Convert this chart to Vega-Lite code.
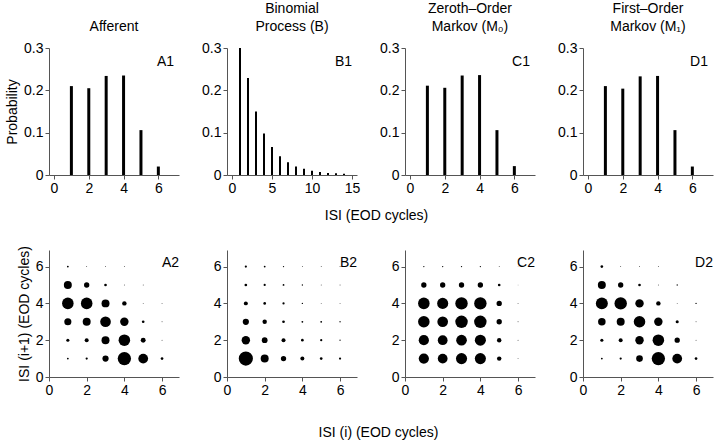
{
  "$schema": "https://vega.github.io/schema/vega-lite/v6.json",
  "padding": {"left": 5, "top": 2, "right": 2, "bottom": 2},
  "datasets": {
    "hist": [
      {"panel": "A1", "isi": 1, "p": 0.210}, {"panel": "A1", "isi": 2, "p": 0.205}, {"panel": "A1", "isi": 3, "p": 0.234},
      {"panel": "A1", "isi": 4, "p": 0.235}, {"panel": "A1", "isi": 5, "p": 0.106}, {"panel": "A1", "isi": 6, "p": 0.020},
      {"panel": "B1", "isi": 1, "p": 0.300}, {"panel": "B1", "isi": 2, "p": 0.229}, {"panel": "B1", "isi": 3, "p": 0.150},
      {"panel": "B1", "isi": 4, "p": 0.098}, {"panel": "B1", "isi": 5, "p": 0.066}, {"panel": "B1", "isi": 6, "p": 0.044},
      {"panel": "B1", "isi": 7, "p": 0.030}, {"panel": "B1", "isi": 8, "p": 0.020}, {"panel": "B1", "isi": 9, "p": 0.015},
      {"panel": "B1", "isi": 10, "p": 0.010}, {"panel": "B1", "isi": 11, "p": 0.007}, {"panel": "B1", "isi": 12, "p": 0.005},
      {"panel": "B1", "isi": 13, "p": 0.004}, {"panel": "B1", "isi": 14, "p": 0.003},
      {"panel": "C1", "isi": 1, "p": 0.211}, {"panel": "C1", "isi": 2, "p": 0.206}, {"panel": "C1", "isi": 3, "p": 0.235},
      {"panel": "C1", "isi": 4, "p": 0.236}, {"panel": "C1", "isi": 5, "p": 0.106}, {"panel": "C1", "isi": 6, "p": 0.021},
      {"panel": "D1", "isi": 1, "p": 0.210}, {"panel": "D1", "isi": 2, "p": 0.204}, {"panel": "D1", "isi": 3, "p": 0.233},
      {"panel": "D1", "isi": 4, "p": 0.234}, {"panel": "D1", "isi": 5, "p": 0.106}, {"panel": "D1", "isi": 6, "p": 0.020}
    ],
    "joint": [
      {"panel": "A2", "i": 1, "j": 6, "p": 0.0024}, {"panel": "A2", "i": 2, "j": 6, "p": 0.0006}, {"panel": "A2", "i": 3, "j": 6, "p": 0.0006}, {"panel": "A2", "i": 4, "j": 6, "p": 0.0006},
      {"panel": "A2", "i": 1, "j": 5, "p": 0.0476}, {"panel": "A2", "i": 2, "j": 5, "p": 0.0212}, {"panel": "A2", "i": 3, "j": 5, "p": 0.0053}, {"panel": "A2", "i": 4, "j": 5, "p": 0.0006}, {"panel": "A2", "i": 5, "j": 5, "p": 0.0006},
      {"panel": "A2", "i": 1, "j": 4, "p": 0.0994}, {"panel": "A2", "i": 2, "j": 4, "p": 0.0994}, {"panel": "A2", "i": 3, "j": 4, "p": 0.0476}, {"panel": "A2", "i": 4, "j": 4, "p": 0.0147}, {"panel": "A2", "i": 5, "j": 4, "p": 0.0006}, {"panel": "A2", "i": 6, "j": 4, "p": 0.0006},
      {"panel": "A2", "i": 1, "j": 3, "p": 0.0376}, {"panel": "A2", "i": 2, "j": 3, "p": 0.0476}, {"panel": "A2", "i": 3, "j": 3, "p": 0.0847}, {"panel": "A2", "i": 4, "j": 3, "p": 0.0531}, {"panel": "A2", "i": 5, "j": 3, "p": 0.0053}, {"panel": "A2", "i": 6, "j": 3, "p": 0.0006},
      {"panel": "A2", "i": 1, "j": 2, "p": 0.0072}, {"panel": "A2", "i": 2, "j": 2, "p": 0.0119}, {"panel": "A2", "i": 3, "j": 2, "p": 0.0476}, {"panel": "A2", "i": 4, "j": 2, "p": 0.0994}, {"panel": "A2", "i": 5, "j": 2, "p": 0.0178}, {"panel": "A2", "i": 6, "j": 2, "p": 0.0006},
      {"panel": "A2", "i": 1, "j": 1, "p": 0.0024}, {"panel": "A2", "i": 2, "j": 1, "p": 0.0037}, {"panel": "A2", "i": 3, "j": 1, "p": 0.0288}, {"panel": "A2", "i": 4, "j": 1, "p": 0.1324}, {"panel": "A2", "i": 5, "j": 1, "p": 0.0712}, {"panel": "A2", "i": 6, "j": 1, "p": 0.0053},

      {"panel": "B2", "i": 1, "j": 6, "p": 0.0037}, {"panel": "B2", "i": 2, "j": 6, "p": 0.0024}, {"panel": "B2", "i": 3, "j": 6, "p": 0.0013}, {"panel": "B2", "i": 4, "j": 6, "p": 0.0006}, {"panel": "B2", "i": 5, "j": 6, "p": 0.0006}, {"panel": "B2", "i": 6, "j": 6, "p": 0.0006},
      {"panel": "B2", "i": 1, "j": 5, "p": 0.0053}, {"panel": "B2", "i": 2, "j": 5, "p": 0.0037}, {"panel": "B2", "i": 3, "j": 5, "p": 0.0024}, {"panel": "B2", "i": 4, "j": 5, "p": 0.0013}, {"panel": "B2", "i": 5, "j": 5, "p": 0.0006}, {"panel": "B2", "i": 6, "j": 5, "p": 0.0006},
      {"panel": "B2", "i": 1, "j": 4, "p": 0.0119}, {"panel": "B2", "i": 2, "j": 4, "p": 0.0053}, {"panel": "B2", "i": 3, "j": 4, "p": 0.0037}, {"panel": "B2", "i": 4, "j": 4, "p": 0.0013}, {"panel": "B2", "i": 5, "j": 4, "p": 0.0006}, {"panel": "B2", "i": 6, "j": 4, "p": 0.0006},
      {"panel": "B2", "i": 1, "j": 3, "p": 0.0288}, {"panel": "B2", "i": 2, "j": 3, "p": 0.0147}, {"panel": "B2", "i": 3, "j": 3, "p": 0.0053}, {"panel": "B2", "i": 4, "j": 3, "p": 0.0024}, {"panel": "B2", "i": 5, "j": 3, "p": 0.0024}, {"panel": "B2", "i": 6, "j": 3, "p": 0.0013},
      {"panel": "B2", "i": 1, "j": 2, "p": 0.0531}, {"panel": "B2", "i": 2, "j": 2, "p": 0.0249}, {"panel": "B2", "i": 3, "j": 2, "p": 0.0119}, {"panel": "B2", "i": 4, "j": 2, "p": 0.0053}, {"panel": "B2", "i": 5, "j": 2, "p": 0.0037}, {"panel": "B2", "i": 6, "j": 2, "p": 0.0013},
      {"panel": "B2", "i": 1, "j": 1, "p": 0.1506}, {"panel": "B2", "i": 2, "j": 1, "p": 0.0476}, {"panel": "B2", "i": 3, "j": 1, "p": 0.0212}, {"panel": "B2", "i": 4, "j": 1, "p": 0.0119}, {"panel": "B2", "i": 5, "j": 1, "p": 0.0053}, {"panel": "B2", "i": 6, "j": 1, "p": 0.0037},

      {"panel": "C2", "i": 1, "j": 6, "p": 0.0013}, {"panel": "C2", "i": 2, "j": 6, "p": 0.0013}, {"panel": "C2", "i": 3, "j": 6, "p": 0.0013}, {"panel": "C2", "i": 4, "j": 6, "p": 0.0013}, {"panel": "C2", "i": 5, "j": 6, "p": 0.0006}, {"panel": "C2", "i": 6, "j": 6, "p": 0.0002},
      {"panel": "C2", "i": 1, "j": 5, "p": 0.0212}, {"panel": "C2", "i": 2, "j": 5, "p": 0.0212}, {"panel": "C2", "i": 3, "j": 5, "p": 0.0212}, {"panel": "C2", "i": 4, "j": 5, "p": 0.0212}, {"panel": "C2", "i": 5, "j": 5, "p": 0.0053}, {"panel": "C2", "i": 6, "j": 5, "p": 0.0002},
      {"panel": "C2", "i": 1, "j": 4, "p": 0.0994}, {"panel": "C2", "i": 2, "j": 4, "p": 0.0919}, {"panel": "C2", "i": 3, "j": 4, "p": 0.1153}, {"panel": "C2", "i": 4, "j": 4, "p": 0.1153}, {"panel": "C2", "i": 5, "j": 4, "p": 0.0212}, {"panel": "C2", "i": 6, "j": 4, "p": 0.0006},
      {"panel": "C2", "i": 1, "j": 3, "p": 0.0994}, {"panel": "C2", "i": 2, "j": 3, "p": 0.0847}, {"panel": "C2", "i": 3, "j": 3, "p": 0.1153}, {"panel": "C2", "i": 4, "j": 3, "p": 0.1153}, {"panel": "C2", "i": 5, "j": 3, "p": 0.0212}, {"panel": "C2", "i": 6, "j": 3, "p": 0.0006},
      {"panel": "C2", "i": 1, "j": 2, "p": 0.0778}, {"panel": "C2", "i": 2, "j": 2, "p": 0.0712}, {"panel": "C2", "i": 3, "j": 2, "p": 0.0847}, {"panel": "C2", "i": 4, "j": 2, "p": 0.0919}, {"panel": "C2", "i": 5, "j": 2, "p": 0.0147}, {"panel": "C2", "i": 6, "j": 2, "p": 0.0006},
      {"panel": "C2", "i": 1, "j": 1, "p": 0.0778}, {"panel": "C2", "i": 2, "j": 1, "p": 0.0712}, {"panel": "C2", "i": 3, "j": 1, "p": 0.0919}, {"panel": "C2", "i": 4, "j": 1, "p": 0.0919}, {"panel": "C2", "i": 5, "j": 1, "p": 0.0147}, {"panel": "C2", "i": 6, "j": 1, "p": 0.0006},

      {"panel": "D2", "i": 1, "j": 6, "p": 0.0053}, {"panel": "D2", "i": 2, "j": 6, "p": 0.0006}, {"panel": "D2", "i": 3, "j": 6, "p": 0.0006}, {"panel": "D2", "i": 4, "j": 6, "p": 0.0006},
      {"panel": "D2", "i": 1, "j": 5, "p": 0.0476}, {"panel": "D2", "i": 2, "j": 5, "p": 0.0212}, {"panel": "D2", "i": 3, "j": 5, "p": 0.0053}, {"panel": "D2", "i": 4, "j": 5, "p": 0.0006}, {"panel": "D2", "i": 5, "j": 5, "p": 0.0013},
      {"panel": "D2", "i": 1, "j": 4, "p": 0.1072}, {"panel": "D2", "i": 2, "j": 4, "p": 0.1153}, {"panel": "D2", "i": 3, "j": 4, "p": 0.0531}, {"panel": "D2", "i": 4, "j": 4, "p": 0.0147}, {"panel": "D2", "i": 5, "j": 4, "p": 0.0006}, {"panel": "D2", "i": 6, "j": 4, "p": 0.0013},
      {"panel": "D2", "i": 1, "j": 3, "p": 0.0425}, {"panel": "D2", "i": 2, "j": 3, "p": 0.0476}, {"panel": "D2", "i": 3, "j": 3, "p": 0.0994}, {"panel": "D2", "i": 4, "j": 3, "p": 0.0531}, {"panel": "D2", "i": 5, "j": 3, "p": 0.0072}, {"panel": "D2", "i": 6, "j": 3, "p": 0.0006},
      {"panel": "D2", "i": 1, "j": 2, "p": 0.0072}, {"panel": "D2", "i": 2, "j": 2, "p": 0.0119}, {"panel": "D2", "i": 3, "j": 2, "p": 0.0531}, {"panel": "D2", "i": 4, "j": 2, "p": 0.0994}, {"panel": "D2", "i": 5, "j": 2, "p": 0.0212}, {"panel": "D2", "i": 6, "j": 2, "p": 0.0006},
      {"panel": "D2", "i": 1, "j": 1, "p": 0.0024}, {"panel": "D2", "i": 2, "j": 1, "p": 0.0037}, {"panel": "D2", "i": 3, "j": 1, "p": 0.0331}, {"panel": "D2", "i": 4, "j": 1, "p": 0.1324}, {"panel": "D2", "i": 5, "j": 1, "p": 0.0712}, {"panel": "D2", "i": 6, "j": 1, "p": 0.0053}
    ]
  },
  "columns": 4,
  "spacing": {"row": 75, "column": 48},
  "bounds": "flush",
  "concat": [
    {
      "width": 130, "height": 127,
      "title": "Afferent",
      "layer": [
        {"data": {"name": "hist"}, "transform": [{"filter": "datum.panel == 'A1'"}],
         "mark": {"type": "bar", "orient": "vertical", "size": 3, "color": "black"},
         "encoding": {
           "x": {"field": "isi", "type": "quantitative", "scale": {"domain": [0, 6.9], "nice": false}, "axis": {"values": [0, 1, 2, 3, 4, 5, 6], "title": null}},
           "y": {"field": "p", "type": "quantitative", "scale": {"domain": [0, 0.3], "nice": false}, "axis": {"values": [0, 0.1, 0.2, 0.3], "format": ".1f", "labelExpr": "datum.value == 0 ? '0' : datum.label", "title": "Probability"}}
         }},
        {"data": {"values": [{"label": "A1"}]},
         "mark": {"type": "text", "align": "right", "baseline": "alphabetic", "fontSize": 14, "color": "black"},
         "encoding": {"x": {"datum": 6.9}, "y": {"datum": 0.257}, "text": {"field": "label"}}}
      ]
    },
    {
      "width": 130, "height": 127,
      "title": {"text": ["Binomial", "Process (B)"]},
      "layer": [
        {"data": {"name": "hist"}, "transform": [{"filter": "datum.panel == 'B1'"}],
         "mark": {"type": "bar", "orient": "vertical", "size": 2, "color": "black"},
         "encoding": {
           "x": {"field": "isi", "type": "quantitative", "scale": {"domain": [0, 15], "nice": false}, "axis": {"values": [0, 5, 10, 15], "title": "ISI (EOD cycles)", "titleX": 149, "titleY": 44, "titleBaseline": "alphabetic"}},
           "y": {"field": "p", "type": "quantitative", "scale": {"domain": [0, 0.3], "nice": false}, "axis": {"values": [0, 0.1, 0.2, 0.3], "format": ".1f", "labelExpr": "datum.value == 0 ? '0' : datum.label", "title": null}}
         }},
        {"data": {"values": [{"label": "B1"}]},
         "mark": {"type": "text", "align": "right", "baseline": "alphabetic", "fontSize": 14, "color": "black"},
         "encoding": {"x": {"datum": 15}, "y": {"datum": 0.257}, "text": {"field": "label"}}}
      ]
    },
    {
      "width": 130, "height": 127,
      "title": {"text": ["Zeroth–Order", "Markov (M₀)"]},
      "layer": [
        {"data": {"name": "hist"}, "transform": [{"filter": "datum.panel == 'C1'"}],
         "mark": {"type": "bar", "orient": "vertical", "size": 3, "color": "black"},
         "encoding": {
           "x": {"field": "isi", "type": "quantitative", "scale": {"domain": [0, 6.9], "nice": false}, "axis": {"values": [0, 1, 2, 3, 4, 5, 6], "title": null}},
           "y": {"field": "p", "type": "quantitative", "scale": {"domain": [0, 0.3], "nice": false}, "axis": {"values": [0, 0.1, 0.2, 0.3], "format": ".1f", "labelExpr": "datum.value == 0 ? '0' : datum.label", "title": null}}
         }},
        {"data": {"values": [{"label": "C1"}]},
         "mark": {"type": "text", "align": "right", "baseline": "alphabetic", "fontSize": 14, "color": "black"},
         "encoding": {"x": {"datum": 6.9}, "y": {"datum": 0.257}, "text": {"field": "label"}}}
      ]
    },
    {
      "width": 130, "height": 127,
      "title": {"text": ["First–Order", "Markov (M₁)"]},
      "layer": [
        {"data": {"name": "hist"}, "transform": [{"filter": "datum.panel == 'D1'"}],
         "mark": {"type": "bar", "orient": "vertical", "size": 3, "color": "black"},
         "encoding": {
           "x": {"field": "isi", "type": "quantitative", "scale": {"domain": [0, 6.9], "nice": false}, "axis": {"values": [0, 1, 2, 3, 4, 5, 6], "title": null}},
           "y": {"field": "p", "type": "quantitative", "scale": {"domain": [0, 0.3], "nice": false}, "axis": {"values": [0, 0.1, 0.2, 0.3], "format": ".1f", "labelExpr": "datum.value == 0 ? '0' : datum.label", "title": null}}
         }},
        {"data": {"values": [{"label": "D1"}]},
         "mark": {"type": "text", "align": "right", "baseline": "alphabetic", "fontSize": 14, "color": "black"},
         "encoding": {"x": {"datum": 6.9}, "y": {"datum": 0.257}, "text": {"field": "label"}}}
      ]
    },
    {
      "width": 130, "height": 127,
      "layer": [
        {"data": {"name": "joint"}, "transform": [{"filter": "datum.panel == 'A2'"}],
         "mark": {"type": "circle", "color": "black", "opacity": 1},
         "encoding": {
           "x": {"field": "i", "type": "quantitative", "scale": {"domain": [0, 6.9], "nice": false}, "axis": {"values": [0, 1, 2, 3, 4, 5, 6], "labelExpr": "datum.value % 2 == 0 ? datum.label : ''", "title": null}},
           "y": {"field": "j", "type": "quantitative", "scale": {"domain": [0, 6.9], "nice": false}, "axis": {"values": [0, 1, 2, 3, 4, 5, 6], "labelExpr": "datum.value % 2 == 0 ? datum.label : ''", "title": "ISI (i+1) (EOD cycles)"}},
           "size": {"field": "p", "type": "quantitative", "scale": {"domain": [0, 0.15], "range": [0, 201]}, "legend": null}
         }},
        {"data": {"values": [{"label": "A2"}]},
         "mark": {"type": "text", "align": "right", "baseline": "alphabetic", "fontSize": 14, "color": "black"},
         "encoding": {"x": {"datum": 6.9}, "y": {"datum": 5.95}, "text": {"field": "label"}}}
      ]
    },
    {
      "width": 130, "height": 127,
      "layer": [
        {"data": {"name": "joint"}, "transform": [{"filter": "datum.panel == 'B2'"}],
         "mark": {"type": "circle", "color": "black", "opacity": 1},
         "encoding": {
           "x": {"field": "i", "type": "quantitative", "scale": {"domain": [0, 6.9], "nice": false}, "axis": {"values": [0, 1, 2, 3, 4, 5, 6], "labelExpr": "datum.value % 2 == 0 ? datum.label : ''", "title": "ISI (i) (EOD cycles)", "titleX": 151, "titleY": 59, "titleBaseline": "alphabetic"}},
           "y": {"field": "j", "type": "quantitative", "scale": {"domain": [0, 6.9], "nice": false}, "axis": {"values": [0, 1, 2, 3, 4, 5, 6], "labelExpr": "datum.value % 2 == 0 ? datum.label : ''", "title": null}},
           "size": {"field": "p", "type": "quantitative", "scale": {"domain": [0, 0.15], "range": [0, 201]}, "legend": null}
         }},
        {"data": {"values": [{"label": "B2"}]},
         "mark": {"type": "text", "align": "right", "baseline": "alphabetic", "fontSize": 14, "color": "black"},
         "encoding": {"x": {"datum": 6.9}, "y": {"datum": 5.95}, "text": {"field": "label"}}}
      ]
    },
    {
      "width": 130, "height": 127,
      "layer": [
        {"data": {"name": "joint"}, "transform": [{"filter": "datum.panel == 'C2'"}],
         "mark": {"type": "circle", "color": "black", "opacity": 1},
         "encoding": {
           "x": {"field": "i", "type": "quantitative", "scale": {"domain": [0, 6.9], "nice": false}, "axis": {"values": [0, 1, 2, 3, 4, 5, 6], "labelExpr": "datum.value % 2 == 0 ? datum.label : ''", "title": null}},
           "y": {"field": "j", "type": "quantitative", "scale": {"domain": [0, 6.9], "nice": false}, "axis": {"values": [0, 1, 2, 3, 4, 5, 6], "labelExpr": "datum.value % 2 == 0 ? datum.label : ''", "title": null}},
           "size": {"field": "p", "type": "quantitative", "scale": {"domain": [0, 0.15], "range": [0, 201]}, "legend": null}
         }},
        {"data": {"values": [{"label": "C2"}]},
         "mark": {"type": "text", "align": "right", "baseline": "alphabetic", "fontSize": 14, "color": "black"},
         "encoding": {"x": {"datum": 6.9}, "y": {"datum": 5.95}, "text": {"field": "label"}}}
      ]
    },
    {
      "width": 130, "height": 127,
      "layer": [
        {"data": {"name": "joint"}, "transform": [{"filter": "datum.panel == 'D2'"}],
         "mark": {"type": "circle", "color": "black", "opacity": 1},
         "encoding": {
           "x": {"field": "i", "type": "quantitative", "scale": {"domain": [0, 6.9], "nice": false}, "axis": {"values": [0, 1, 2, 3, 4, 5, 6], "labelExpr": "datum.value % 2 == 0 ? datum.label : ''", "title": null}},
           "y": {"field": "j", "type": "quantitative", "scale": {"domain": [0, 6.9], "nice": false}, "axis": {"values": [0, 1, 2, 3, 4, 5, 6], "labelExpr": "datum.value % 2 == 0 ? datum.label : ''", "title": null}},
           "size": {"field": "p", "type": "quantitative", "scale": {"domain": [0, 0.15], "range": [0, 201]}, "legend": null}
         }},
        {"data": {"values": [{"label": "D2"}]},
         "mark": {"type": "text", "align": "right", "baseline": "alphabetic", "fontSize": 14, "color": "black"},
         "encoding": {"x": {"datum": 6.9}, "y": {"datum": 5.95}, "text": {"field": "label"}}}
      ]
    }
  ],
  "config": {
    "font": "Liberation Sans",
    "view": {"stroke": null},
    "axis": {
      "grid": false,
      "domainColor": "#555555",
      "tickColor": "#555555",
      "labelColor": "black",
      "titleColor": "black",
      "labelFont": "Liberation Sans",
      "titleFont": "Liberation Sans",
      "labelFontSize": 14,
      "titleFontSize": 14,
      "titleFontWeight": "normal",
      "tickSize": 4,
      "labelPadding": 2,
      "labelFlush": false,
      "labelOverlap": false
    },
    "title": {"font": "Liberation Sans", "fontSize": 14, "fontWeight": "normal", "color": "black", "lineHeight": 18, "offset": 7}
  }
}
